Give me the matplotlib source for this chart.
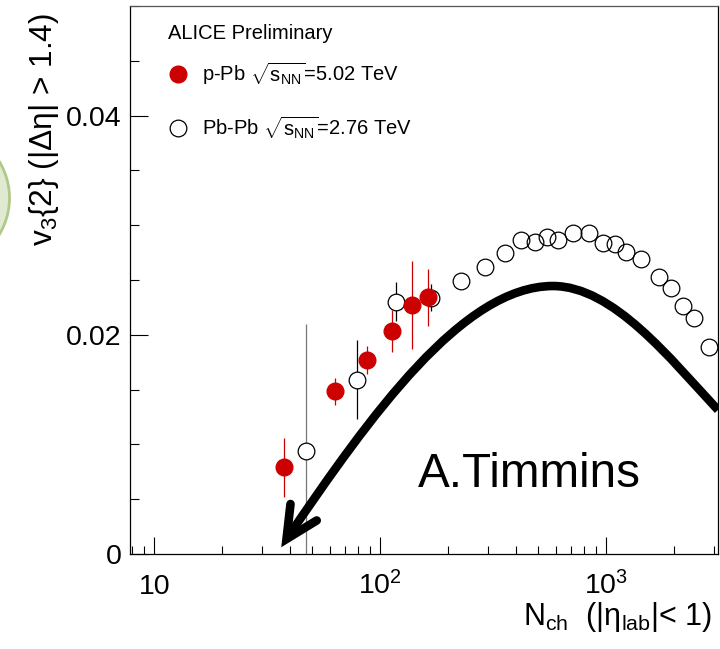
import numpy as np
import matplotlib
matplotlib.use('Agg')
import matplotlib.pyplot as plt
from matplotlib.ticker import FixedLocator, NullFormatter, LogLocator, MultipleLocator, FixedFormatter
from matplotlib.patches import Ellipse, PathPatch
from matplotlib.path import Path
from matplotlib.lines import Line2D
import matplotlib.transforms as mtransforms

plt.rcParams['font.family'] = ['Liberation Sans', 'DejaVu Sans']
plt.rcParams['mathtext.fontset'] = 'custom'
plt.rcParams['mathtext.rm'] = 'Liberation Sans'
plt.rcParams['mathtext.it'] = 'Liberation Sans:italic'
plt.rcParams['mathtext.bf'] = 'Liberation Sans:bold'
plt.rcParams['mathtext.sf'] = 'Liberation Sans'
plt.rcParams['mathtext.default'] = 'regular'

# ---------------- data ----------------
ppb_nch = [37.6, 62.8, 87.6, 113, 137.7, 163]
ppb_v3 = [0.00791, 0.01484, 0.0177, 0.02032, 0.02272, 0.02342]
ppb_err = [0.0027, 0.0012, 0.0013, 0.0019, 0.0040, 0.0026]

pbpb_nch = [46.8, 79.1, 117.8, 167, 227, 290.5, 356, 419.5, 485, 547, 611,
            710, 838, 966, 1093, 1226, 1419, 1706, 1928, 2193, 2444, 2838]
pbpb_v3 = [0.00937, 0.01588, 0.02302, 0.02339, 0.02494, 0.02622, 0.02749,
           0.02865, 0.02847, 0.02895, 0.02868, 0.02926, 0.02926, 0.0284,
           0.02831, 0.02753, 0.02694, 0.0253, 0.0243, 0.02266, 0.02156, 0.01891]
pbpb_err = [0.0116, 0.0036, 0.0018, 0.0012, 0, 0, 0, 0, 0, 0, 0,
            0, 0, 0, 0, 0, 0, 0, 0, 0, 0, 0]

# hand-drawn annotation: Bezier control points of the curve (data coordinates)
curve_nch = [38.46, 90.78, 232.2, 581.0, 1070.5, 1921, 3121]
curve_v3 = [0.00137, 0.01268, 0.02445, 0.02445, 0.02445, 0.01780, 0.01314]
# arrow head (left arm end, tip, right arm end)
head_nch = [40.06, 38.46, 52.32]
head_v3 = [0.00456, 0.00137, 0.00306]

xticks = [10, 100, 1000]
xticklabels = ['10', r'10$^{2}$', r'10$^{3}$']
yticks = [0, 0.02, 0.04]
yticklabels = ['0', '0.02', '0.04']

labels = [r'p-Pb $\sqrt{s_{NN}}$=5.02 TeV', r'Pb-Pb $\sqrt{s_{NN}}$=2.76 TeV']

RED = '#cc0000'

# ---------------- figure ----------------
fig = plt.figure(figsize=(7.2, 6.49), dpi=100)
ax = fig.add_axes([130/720, 1-554/649, 587.7/720, 548/649])

ax.set_xscale('log')
ax.set_xlim(7.806, 3112)
ax.set_ylim(0, 0.05)

# Pb-Pb error bars
eb = ax.errorbar(pbpb_nch, pbpb_v3, yerr=pbpb_err, fmt='none', ecolor='black',
                 elinewidth=0.9, capsize=0, zorder=1)
bar_colors = ['#777777'] + ['black'] * (len(pbpb_nch) - 1)
eb.lines[2][0].set_color(bar_colors)
# white fill under open circles (hides bars inside marker)
ax.plot(pbpb_nch[:5], pbpb_v3[:5], 'o', ms=12, mfc='white', mec='none', zorder=2)
ax.plot(pbpb_nch, pbpb_v3, 'o', ms=12, mfc='none', mec='black', mew=0.9, zorder=3)
# p-Pb
ax.errorbar(ppb_nch, ppb_v3, yerr=ppb_err, fmt='none', ecolor=RED,
            elinewidth=0.9, capsize=0, zorder=4)
ax.plot(ppb_nch, ppb_v3, 'o', ms=12, mfc=RED, mec=RED, zorder=5)

# annotation curve + arrow head
codes = [Path.MOVETO] + [Path.CURVE4] * (len(curve_nch) - 1)
curve_path = Path(np.column_stack([curve_nch, curve_v3]), codes)
ax.add_patch(PathPatch(curve_path, facecolor='none', edgecolor='black', lw=6.2,
                       capstyle='butt', joinstyle='round', zorder=6,
                       transform=ax.transData))
ax.plot(head_nch, head_v3, color='black', lw=6.2, solid_capstyle='round',
        solid_joinstyle='miter', zorder=6)

# axes styling
for s in ['left', 'bottom', 'right']:
    ax.spines[s].set_linewidth(0.9)
    ax.spines[s].set_color('black')
ax.spines['top'].set_linewidth(0.9)
ax.spines['top'].set_color('#555555')

ax.xaxis.set_major_locator(FixedLocator(xticks))
ax.xaxis.set_minor_locator(LogLocator(base=10, subs=np.arange(2, 10)))
ax.xaxis.set_major_formatter(NullFormatter())
ax.xaxis.set_minor_formatter(NullFormatter())
ax.yaxis.set_major_locator(FixedLocator(yticks))
ax.yaxis.set_major_formatter(FixedFormatter(yticklabels))
ax.yaxis.set_minor_locator(MultipleLocator(0.005))

ax.tick_params(axis='x', which='major', direction='in', length=12, width=0.8,
               top=False, bottom=True)
ax.tick_params(axis='x', which='minor', direction='in', length=6, width=0.8,
               top=False, bottom=True)
ax.tick_params(axis='y', which='major', direction='in', length=13.2, width=0.8,
               right=False, labelsize=20.5, pad=6)
ax.tick_params(axis='y', which='minor', direction='in', length=6.7, width=0.8,
               right=False)

trans = mtransforms.blended_transform_factory(ax.transData, ax.transAxes)
for v, lab in zip(xticks, xticklabels):
    ax.text(v, -(594-554)/548, lab, transform=trans, ha='center', va='baseline',
            fontsize=20.5)

# axis titles
fig.text(712/720, 1-625/649, r'N$_{ch}$  (|η$_{lab}$|< 1)', ha='right',
         va='baseline', fontsize=22)
fig.text(51.7/720, 1-13/649, r'v$_{3}${2} (|Δη| > 1.4)', rotation=90,
         rotation_mode='anchor', ha='right', va='baseline', fontsize=22.8)

# legend
h1 = Line2D([], [], ls='none', marker='o', ms=12, mfc=RED, mec=RED)
h2 = Line2D([], [], ls='none', marker='o', ms=12, mfc='none', mec='black', mew=0.9)
ax.legend([h1, h2], labels, loc='upper left',
          bbox_to_anchor=((167.6-130)/587.7, 1-(60-6)/548), frameon=False,
          fontsize=14.5, handlelength=1.0, handletextpad=0.7, borderpad=0,
          borderaxespad=0, labelspacing=1.35)
ax.text((167.7-130)/587.7, 1-(39.3-6)/548, 'ALICE Preliminary', transform=ax.transAxes,
        ha='left', va='baseline', fontsize=14.5)

ax.text((418-130)/587.7, 1-(486.7-6)/548, 'A.Timmins', transform=ax.transAxes,
        ha='left', va='baseline', fontsize=34.3)

# decorative green circle at the left edge
fig.patches.append(Ellipse((-61/720, 1-198/649), 141/720, 141/649,
                           transform=fig.transFigure, facecolor='#e0ead0',
                           edgecolor='#b0c98a', lw=2, zorder=0))

fig.savefig('out.png', dpi=100)
